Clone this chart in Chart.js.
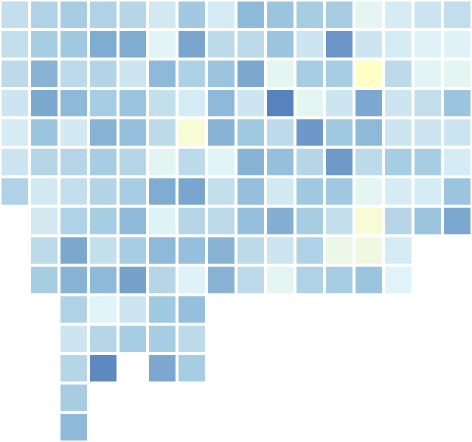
<!DOCTYPE html>
<html><head><meta charset="utf-8">
<script src="https://cdn.jsdelivr.net/npm/chart.js@4"></script>
<style>html,body{margin:0;padding:0;background:#fff;overflow:hidden}#wrap{width:472px;height:442px;position:relative}</style>
</head><body><div id="wrap"><canvas id="c"></canvas></div>
<script>
// Columns (x categories) and rows (y bands, top to bottom)
const columns = ['C1','C2','C3','C4','C5','C6','C7','C8','C9','C10','C11','C12','C13','C14','C15','C16'];
const rowNames = ['R1','R2','R3','R4','R5','R6','R7','R8','R9','R10','R11','R12','R13','R14','R15'];

// Cell values per row (null = no cell)
const r0  = [40, 50, 54, 50, 47, 30, 57, 27, 68, 60, 54, 54, 17, 27, 34, 41];
const r1  = [41, 54, 57, 77, 77, 19, 81, 44, 44, 60, 34, 90, 34, 27, 21, 21];
const r2  = [44, 72, 44, 48, 34, 68, 51, 60, 80, 17, 54, 54, 0, 44, 19, 17];
const r3  = [34, 80, 68, 54, 60, 40, 27, 68, 34, 100, 17, 34, 80, 34, 41, 60];
const r4  = [27, 60, 30, 72, 64, 44, 5, 72, 57, 44, 88, 57, 68, 34, 34, 34];
const r5  = [34, 47, 47, 54, 47, 18, 44, 20, 72, 64, 47, 87, 44, 54, 54, 27];
const r6  = [50, 30, 40, 48, 54, 77, 81, 40, 64, 30, 57, 57, 17, 27, 27, 60];
const r7  = [null, 30, 50, 54, 68, 21, 47, 44, 64, 75, 54, 40, 5, 47, 60, 80];
const r8  = [null, 44, 80, 40, 54, 68, 64, 72, 44, 34, 50, 13, 10, 27, null, null];
const r9  = [null, 54, 72, 68, 83, 47, 21, 72, 44, 17, 50, 54, 60, 20, null, null];
const r10 = [null, null, 50, 20, 34, 57, 64, null, null, null, null, null, null, null, null, null];
const r11 = [null, null, 34, 47, 54, 54, 44, null, null, null, null, null, null, null, null, null];
const r12 = [null, null, 47, 97, null, 80, 54, null, null, null, null, null, null, null, null, null];
const r13 = [null, null, 54, null, null, null, null, null, null, null, null, null, null, null, null, null];
const r14 = [null, null, 68, null, null, null, null, null, null, null, null, null, null, null, null, null];
const rows = [r0, r1, r2, r3, r4, r5, r6, r7, r8, r9, r10, r11, r12, r13, r14];

// Colour scale
const scaleStops = [0, 20, 40, 60, 80, 100];
const scaleColors = ['#ffffc8', '#e0f3f8', '#c4dfec', '#9bc5df', '#7ca7ce', '#5782bd'];

function hexToRgb(h) {
  return [parseInt(h.slice(1,3),16), parseInt(h.slice(3,5),16), parseInt(h.slice(5,7),16)];
}
function colorFor(v) {
  if (v == null) return 'rgba(0,0,0,0)';
  for (let i = 0; i < scaleStops.length - 1; i++) {
    if (v <= scaleStops[i+1]) {
      const t = (v - scaleStops[i]) / (scaleStops[i+1] - scaleStops[i]);
      const a = hexToRgb(scaleColors[i]), b = hexToRgb(scaleColors[i+1]);
      const c = a.map((x, k) => Math.round(x + (b[k] - x) * t));
      return 'rgb(' + c.join(',') + ')';
    }
  }
  return scaleColors[scaleColors.length - 1];
}

const datasets = rows.map((vals, r) => ({
  label: rowNames[r],
  data: vals.map(v => v == null ? null : [r, r + 1]),
  backgroundColor: ctx => colorFor(rows[ctx.datasetIndex][ctx.dataIndex]),
  borderColor: '#ffffff',
  borderWidth: 1.5,
  borderSkipped: false,
  inflateAmount: 0,
  grouped: false,
  barPercentage: 1,
  categoryPercentage: 1
}));

new Chart(document.getElementById('c'), {
  type: 'bar',
  data: { labels: columns, datasets },
  options: {
    responsive: true,
    maintainAspectRatio: false,
    animation: false,
    layout: { padding: 0 },
    plugins: { legend: { display: false }, tooltip: { enabled: false } },
    scales: {
      x: { type: 'category', offset: true, display: false, grid: { display: false } },
      y: { type: 'linear', min: 0, max: 15, reverse: true, display: false, grid: { display: false } }
    }
  }
});
</script>
</body></html>
